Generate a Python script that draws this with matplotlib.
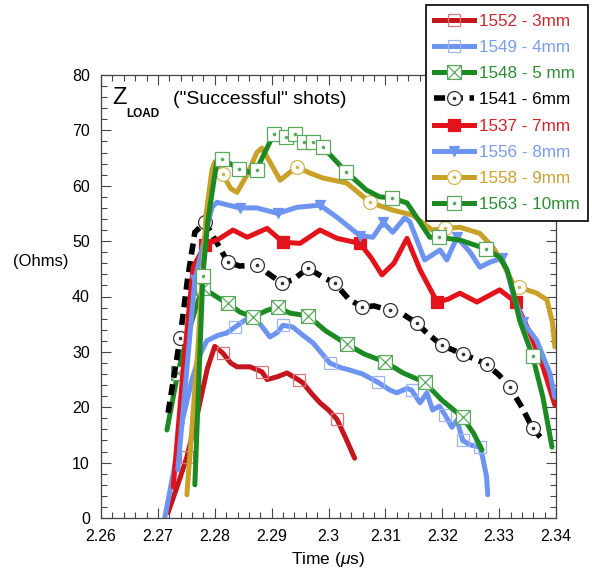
import matplotlib
matplotlib.use('Agg')
import matplotlib.pyplot as plt
from matplotlib.lines import Line2D
from matplotlib.legend_handler import HandlerTuple
from matplotlib.path import Path
from matplotlib.ticker import MultipleLocator, FormatStrFormatter

plt.rcParams['font.family'] = ['Liberation Sans', 'DejaVu Sans']
plt.rcParams['mathtext.fontset'] = 'custom'
plt.rcParams['mathtext.rm'] = 'Liberation Sans'
plt.rcParams['mathtext.it'] = 'Liberation Sans:italic'

# ---- data (time in us, impedance in Ohms) ----
t_1552 = [2.2718, 2.2735, 2.2751, 2.2770, 2.2787, 2.2800, 2.2814, 2.2828, 2.2839, 2.2862,
          2.2883, 2.2892, 2.2910, 2.2927, 2.2948, 2.2955, 2.2970, 2.2985, 2.3000, 2.3015,
          2.3030, 2.3046]
z_1552 = [1, 6, 11, 19, 27, 31, 29.8, 28, 27.3, 27.3,
          26.4, 25, 25.5, 26.2, 24.9, 24.4, 22.5, 20.8, 19.5, 17.8,
          14.5, 10.8]
m_1552 = [2, 6, 10, 14, 19]

t_1549 = [2.2712, 2.2727, 2.2744, 2.2760, 2.2772, 2.2786, 2.2806, 2.2821, 2.2836, 2.2850,
          2.2862, 2.2880, 2.2897, 2.2910, 2.2920, 2.2937, 2.2955, 2.2973, 2.2990, 2.3002,
          2.3020, 2.3038, 2.3060, 2.3087, 2.3108, 2.3120, 2.3138, 2.3146, 2.3161, 2.3173,
          2.3183, 2.3195, 2.3205, 2.3217, 2.3226, 2.3236, 2.3249, 2.3266, 2.3271, 2.3278,
          2.3280]
z_1549 = [0, 8, 18, 25, 29, 32, 33, 33.4, 34.5, 35.5,
          36.3, 35, 32.7, 33.5, 34.8, 34.5, 33, 31.6, 29.5, 28,
          27.2, 26.7, 26, 24.5, 23.1, 22.6, 23.4, 23.1, 20.8, 22.6,
          19.5, 20.2, 18.6, 16.4, 17.7, 14, 13.2, 12.8, 11, 7.4,
          4.2]
m_1549 = [8, 14, 19, 23, 27, 32, 35, 37]

t_1548 = [2.2716, 2.2735, 2.2755, 2.2770, 2.2779, 2.2795, 2.2810, 2.2823, 2.2844, 2.2867,
          2.2892, 2.2911, 2.2932, 2.2964, 2.2995, 2.3032, 2.3063, 2.3099, 2.3131, 2.3169,
          2.3199, 2.3236, 2.3255, 2.3270]
z_1548 = [15.9, 26.2, 34, 39, 41.5, 40.5, 39.5, 38.8, 37.2, 36.3,
          37.5, 38.1, 37, 36.5, 33.8, 31.4, 29.6, 28.2, 26.2, 24.5,
          21.3, 18.2, 15.3, 12.3]
m_1548 = [1, 4, 7, 9, 11, 13, 15, 17, 19, 21]

t_1541 = [2.2718, 2.2739, 2.2752, 2.2765, 2.2783, 2.2806, 2.2823, 2.2844, 2.2874, 2.2892,
          2.2918, 2.2937, 2.2964, 2.2990, 2.3011, 2.3036, 2.3059, 2.3080, 2.3108, 2.3131,
          2.3155, 2.3173, 2.3199, 2.3236, 2.3278, 2.3300, 2.3319, 2.3340, 2.3359, 2.3380]
z_1541 = [19, 32.5, 43, 51.6, 53.4, 49.3, 46.2, 45.5, 45.7, 44.3,
          42.4, 43, 45.1, 43.5, 42.4, 39.5, 38.1, 38.3, 37.5, 36.8,
          35.2, 33.4, 31.2, 29.6, 27.8, 25.8, 23.6, 20, 16.2, 13.7]
m_1541 = [1, 4, 6, 8, 10, 12, 14, 16, 18, 20, 22, 23, 24, 26, 28]

t_1537 = [2.2727, 2.2744, 2.2762, 2.2783, 2.2809, 2.2832, 2.2857, 2.2892, 2.2920, 2.2950,
          2.2985, 2.3015, 2.3055, 2.3075, 2.3094, 2.3115, 2.3138, 2.3161, 2.3191, 2.3210,
          2.3231, 2.3261, 2.3301, 2.3329, 2.3354, 2.3377, 2.3398]
z_1537 = [5.6, 26.2, 45.3, 49.3, 50.5, 52, 50.7, 52.3, 49.8, 49.6,
          52, 50.5, 49.6, 47, 43.9, 46, 50.5, 44.8, 39, 39.5,
          40.6, 39, 41.2, 39, 33.4, 27.3, 20.4]
m_1537 = [3, 8, 12, 18, 23]

t_1556 = [2.2735, 2.2765, 2.2795, 2.2804, 2.2844, 2.2874, 2.2911, 2.2944, 2.2985, 2.3015,
          2.3055, 2.3078, 2.3096, 2.3113, 2.3134, 2.3143, 2.3169, 2.3178, 2.3196, 2.3208,
          2.3226, 2.3249, 2.3266, 2.3284, 2.3305, 2.3315, 2.3324, 2.3342, 2.3366, 2.3389,
          2.3398]
z_1556 = [8.7, 43, 56.1, 57, 56, 56, 55, 56.1, 56.5, 54.3,
          51, 50.7, 53.4, 51.6, 54.2, 53.5, 46.6, 47.2, 48.4, 46.6,
          50.7, 48, 45.3, 46.2, 46.9, 44.2, 40.6, 35.4, 32.1, 26.2,
          21.8]
m_1556 = [1, 4, 6, 8, 10, 12, 20, 24, 27]

t_1558 = [2.2751, 2.2770, 2.2785, 2.2795, 2.2800, 2.2814, 2.2828, 2.2839, 2.2857, 2.2874,
          2.2883, 2.2892, 2.2915, 2.2944, 2.2967, 2.2990, 2.3032, 2.3073, 2.3113, 2.3148,
          2.3182, 2.3205, 2.3231, 2.3266, 2.3289, 2.3307, 2.3324, 2.3335, 2.3366, 2.3384,
          2.3394, 2.3398]
z_1558 = [4.2, 30, 55, 62.8, 64.3, 62.1, 59.5, 58.8, 62, 66,
          66.8, 65.2, 61, 63.4, 62.3, 61.4, 60.5, 57, 55.6, 54.7,
          52, 52.3, 52.5, 51.4, 48.9, 46, 42.4, 41.7, 40.6, 39.4,
          35.2, 30.9]
m_1558 = [5, 13, 17, 21, 27]

t_1563 = [2.2765, 2.2779, 2.2788, 2.2804, 2.2813, 2.2832, 2.2843, 2.2860, 2.2874, 2.2880,
          2.2897, 2.2904, 2.2925, 2.2941, 2.2957, 2.2973, 2.2990, 2.3031, 2.3067, 2.3090,
          2.3111, 2.3138, 2.3155, 2.3178, 2.3194, 2.3231, 2.3277, 2.3301, 2.3314, 2.3324,
          2.3336, 2.3359, 2.3377, 2.3393]
z_1563 = [6, 43.7, 53.8, 64.6, 64.8, 63.7, 63, 62.5, 62.8, 64.3,
          67.9, 69.3, 68.8, 69.3, 67.9, 67.9, 67, 62.5, 59.2, 58,
          57.8, 56.9, 54.3, 50.7, 50.7, 50.2, 48.6, 47.1, 44.8, 41.2,
          35.7, 29.2, 21.8, 12.8]
m_1563 = [1, 4, 6, 8, 11, 12, 13, 14, 15, 16, 17, 20, 24, 26, 31]

labels = ['1552 - 3mm', '1549 - 4mm', '1548 - 5 mm', '1541 - 6mm',
          '1537 - 7mm', '1556 - 8mm', '1558 - 9mm', '1563 - 10mm']
xticks = [2.26, 2.27, 2.28, 2.29, 2.30, 2.31, 2.32, 2.33, 2.34]
yticks = [0, 10, 20, 30, 40, 50, 60, 70, 80]

# square with both diagonals (crossed box marker)
crossed = Path([(-1, -1), (1, -1), (1, 1), (-1, 1), (-1, -1),
                (-1, -1), (1, 1), (-1, 1), (1, -1)],
               [Path.MOVETO, Path.LINETO, Path.LINETO, Path.LINETO, Path.CLOSEPOLY,
                Path.MOVETO, Path.LINETO, Path.MOVETO, Path.LINETO])

DKRED = '#c3161d'
RED = '#e3131b'
BLUE = '#6d94f0'
GREEN = '#1c8a22'
GOLD = '#c8a126'

series = [
    # t, z, marks, line color, marker, face, edge, dot, ls, ms
    (t_1552, z_1552, m_1552, DKRED, 's', 'none', '#d9777a', False, '-', 9),
    (t_1549, z_1549, m_1549, BLUE, 's', 'none', '#9db6f3', False, '-', 9),
    (t_1548, z_1548, m_1548, GREEN, crossed, 'white', '#5aa85e', False, '-', 10),
    (t_1541, z_1541, m_1541, 'black', 'o', 'white', '#333333', True, (0, (2.0, 1.2)), 10),
    (t_1537, z_1537, m_1537, RED, 's', RED, RED, False, '-', 9),
    (t_1556, z_1556, m_1556, BLUE, 'v', BLUE, BLUE, False, '-', 6.5),
    (t_1558, z_1558, m_1558, GOLD, 'o', 'white', '#d4b556', True, '-', 10),
    (t_1563, z_1563, m_1563, GREEN, 's', 'white', '#5aa85e', True, '-', 9.5),
]
text_colors = ['#c42a30', '#7b9ce8', '#2d8c33', 'black', '#d3232a', '#7b9ce8', '#c9a233', '#2d8c33']

fig = plt.figure(figsize=(5.92, 5.77), dpi=100)
ax = fig.add_axes([101 / 592, 1 - 518 / 577, 455 / 592, 443 / 577])

handles = []
for t, z, marks, col, mk, face, edge, dot, ls, ms in series:
    lw = 4.0 if col == 'black' else 3.6
    ax.plot(t, z, color=col, lw=lw, ls=ls, solid_joinstyle='round',
            solid_capstyle='round')
    ax.plot([t[i] for i in marks], [z[i] for i in marks], ls='none', marker=mk,
            ms=ms, mfc=face, mec=edge, mew=0.9)
    h = [Line2D([], [], color=col, lw=lw, ls=ls, marker=mk, ms=ms, mfc=face,
                mec=edge, mew=0.9)]
    if dot:
        ax.plot([t[i] for i in marks], [z[i] for i in marks], ls='none', marker='o',
                ms=1.6, mfc=edge, mec=edge)
        h.append(Line2D([], [], ls='none', marker='o', ms=1.6, mfc=edge, mec=edge))
    handles.append(tuple(h))

ax.set_xlim(2.26, 2.34)
ax.set_ylim(0, 80)
ax.set_xticks(xticks)
ax.set_yticks(yticks)
ax.xaxis.set_major_formatter(FormatStrFormatter('%g'))
ax.xaxis.set_minor_locator(MultipleLocator(0.002))
ax.yaxis.set_minor_locator(MultipleLocator(2))
ax.tick_params(which='both', direction='in', top=True, right=True, width=0.8,
               color='#444444', labelsize=11.5)
ax.tick_params(which='major', length=7, pad=8)
ax.tick_params(which='minor', length=4)
for s in ax.spines.values():
    s.set_linewidth(0.9)
    s.set_color('#444444')

ax.set_xlabel('Time ($\\mu$s)', fontsize=12.5, labelpad=4)
fig.text(13 / 592, 1 - 262 / 577, '(Ohms)', fontsize=12, ha='left', va='center')

ax.text(0.025, 0.935, 'Z', transform=ax.transAxes, fontsize=17, va='baseline')
ax.text(0.056, 0.905, 'LOAD', transform=ax.transAxes, fontsize=8.5,
        fontweight='bold', va='baseline')
ax.text(0.158, 0.935, '("Successful" shots)', transform=ax.transAxes,
        fontsize=14, va='baseline')

leg = fig.legend(handles, labels, handler_map={tuple: HandlerTuple(ndivide=1)},
                 loc='upper right', bbox_to_anchor=(588 / 592, 1 - 5 / 577),
                 bbox_transform=fig.transFigure, fontsize=12.3, frameon=True,
                 fancybox=False, framealpha=1, edgecolor='black',
                 handlelength=2.3, handletextpad=0.3, labelspacing=0.66,
                 borderpad=0.5, borderaxespad=0)
leg.get_frame().set_linewidth(1.2)
for txt, c in zip(leg.get_texts(), text_colors):
    txt.set_color(c)

fig.savefig('out.png', dpi=100)
